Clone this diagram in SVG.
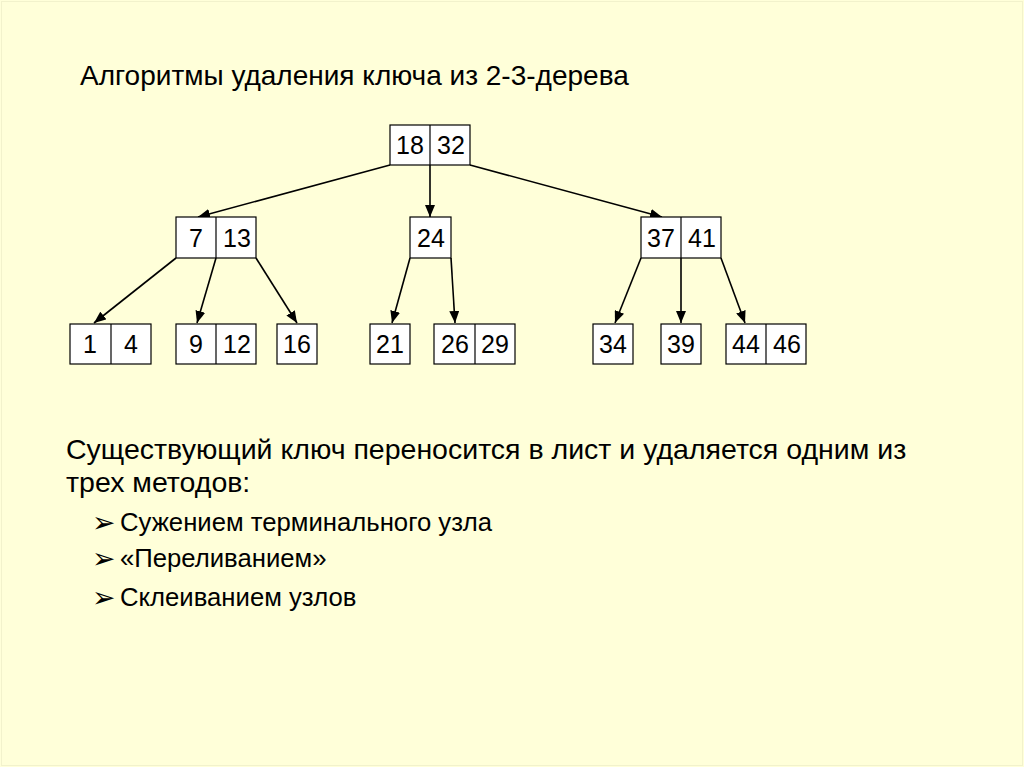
<svg xmlns="http://www.w3.org/2000/svg" width="1024" height="767" viewBox="0 0 1024 767">
<style>
.bx{fill:#FFFFFF;stroke:#000;stroke-width:1.2}
.dv{stroke:#000;stroke-width:1.2}
.n{font-family:"Liberation Sans",Arial,sans-serif;font-size:25px;fill:#000;text-anchor:middle}
.t{font-family:"Liberation Sans",Arial,sans-serif;fill:#000}
.b{font-family:"DejaVu Sans",sans-serif;font-size:28px;fill:#000}
.c{stroke:#000;stroke-width:1.6;fill:none;marker-end:url(#ah)}
</style>
<defs>
<marker id="ah" markerWidth="12" markerHeight="10" refX="12" refY="5" orient="auto" markerUnits="userSpaceOnUse">
<path d="M0,0 L12,5 L0,10 Z" fill="#000"/>
</marker>
</defs>
<rect x="0" y="0" width="1024" height="767" fill="#FFFFD9"/>
<rect x="1.5" y="1.5" width="1021" height="764" fill="none" stroke="#F2F2CC" stroke-width="1"/>
<text class="t" x="80" y="85" font-size="28">Алгоритмы удаления ключа из 2-3-дерева</text>

<g id="connectors">
<line class="c" x1="390" y1="165" x2="198" y2="217"/>
<line class="c" x1="430" y1="165" x2="430" y2="217"/>
<line class="c" x1="470" y1="165" x2="662" y2="217"/>
<line class="c" x1="176" y1="258" x2="94" y2="323"/>
<line class="c" x1="216" y1="258" x2="197" y2="323"/>
<line class="c" x1="256" y1="258" x2="297" y2="323"/>
<line class="c" x1="410" y1="258" x2="392" y2="323"/>
<line class="c" x1="451" y1="258" x2="455" y2="323"/>
<line class="c" x1="641" y1="258" x2="615" y2="323"/>
<line class="c" x1="681" y1="258" x2="681" y2="323"/>
<line class="c" x1="721" y1="258" x2="745" y2="323"/>
</g>

<g id="n18_32"><rect class="bx" x="390" y="125" width="80" height="40"/><line class="dv" x1="430" y1="125" x2="430" y2="165"/><text class="n" x="410" y="154">18</text><text class="n" x="451" y="154">32</text></g>
<g id="n7_13"><rect class="bx" x="176" y="217" width="80" height="41"/><line class="dv" x1="216" y1="217" x2="216" y2="258"/><text class="n" x="196" y="247">7</text><text class="n" x="237" y="247">13</text></g>
<g id="n24"><rect class="bx" x="410" y="217" width="41" height="41"/><text class="n" x="431" y="247">24</text></g>
<g id="n37_41"><rect class="bx" x="641" y="217" width="80" height="41"/><line class="dv" x1="681" y1="217" x2="681" y2="258"/><text class="n" x="661" y="247">37</text><text class="n" x="702" y="247">41</text></g>

<g id="n1_4"><rect class="bx" x="70" y="324" width="81" height="40"/><line class="dv" x1="111" y1="324" x2="111" y2="364"/><text class="n" x="90" y="353">1</text><text class="n" x="131" y="353">4</text></g>
<g id="n9_12"><rect class="bx" x="176" y="324" width="80" height="40"/><line class="dv" x1="216" y1="324" x2="216" y2="364"/><text class="n" x="196" y="353">9</text><text class="n" x="237" y="353">12</text></g>
<g id="n16"><rect class="bx" x="277" y="324" width="40" height="40"/><text class="n" x="297" y="353">16</text></g>
<g id="n21"><rect class="bx" x="370" y="324" width="40" height="40"/><text class="n" x="390" y="353">21</text></g>
<g id="n26_29"><rect class="bx" x="434" y="324" width="81" height="40"/><line class="dv" x1="475" y1="324" x2="475" y2="364"/><text class="n" x="455" y="353">26</text><text class="n" x="495" y="353">29</text></g>
<g id="n34"><rect class="bx" x="593" y="324" width="40" height="40"/><text class="n" x="613" y="353">34</text></g>
<g id="n39"><rect class="bx" x="661" y="324" width="40" height="40"/><text class="n" x="681" y="353">39</text></g>
<g id="n44_46"><rect class="bx" x="726" y="324" width="80" height="40"/><line class="dv" x1="766" y1="324" x2="766" y2="364"/><text class="n" x="746" y="353">44</text><text class="n" x="787" y="353">46</text></g>

<text class="t" x="66" y="459" font-size="28.5">Существующий ключ переносится в лист и удаляется одним из</text>
<text class="t" x="66" y="492" font-size="28.5">трех методов:</text>
<g class="t" font-size="25.7">
<text class="b" x="92" y="532">➢</text><text x="120" y="531">Сужением терминального узла</text>
<text class="b" x="92" y="568">➢</text><text x="120" y="567">«Переливанием»</text>
<text class="b" x="92" y="607">➢</text><text x="120" y="606">Склеиванием узлов</text>
</g>
</svg>
